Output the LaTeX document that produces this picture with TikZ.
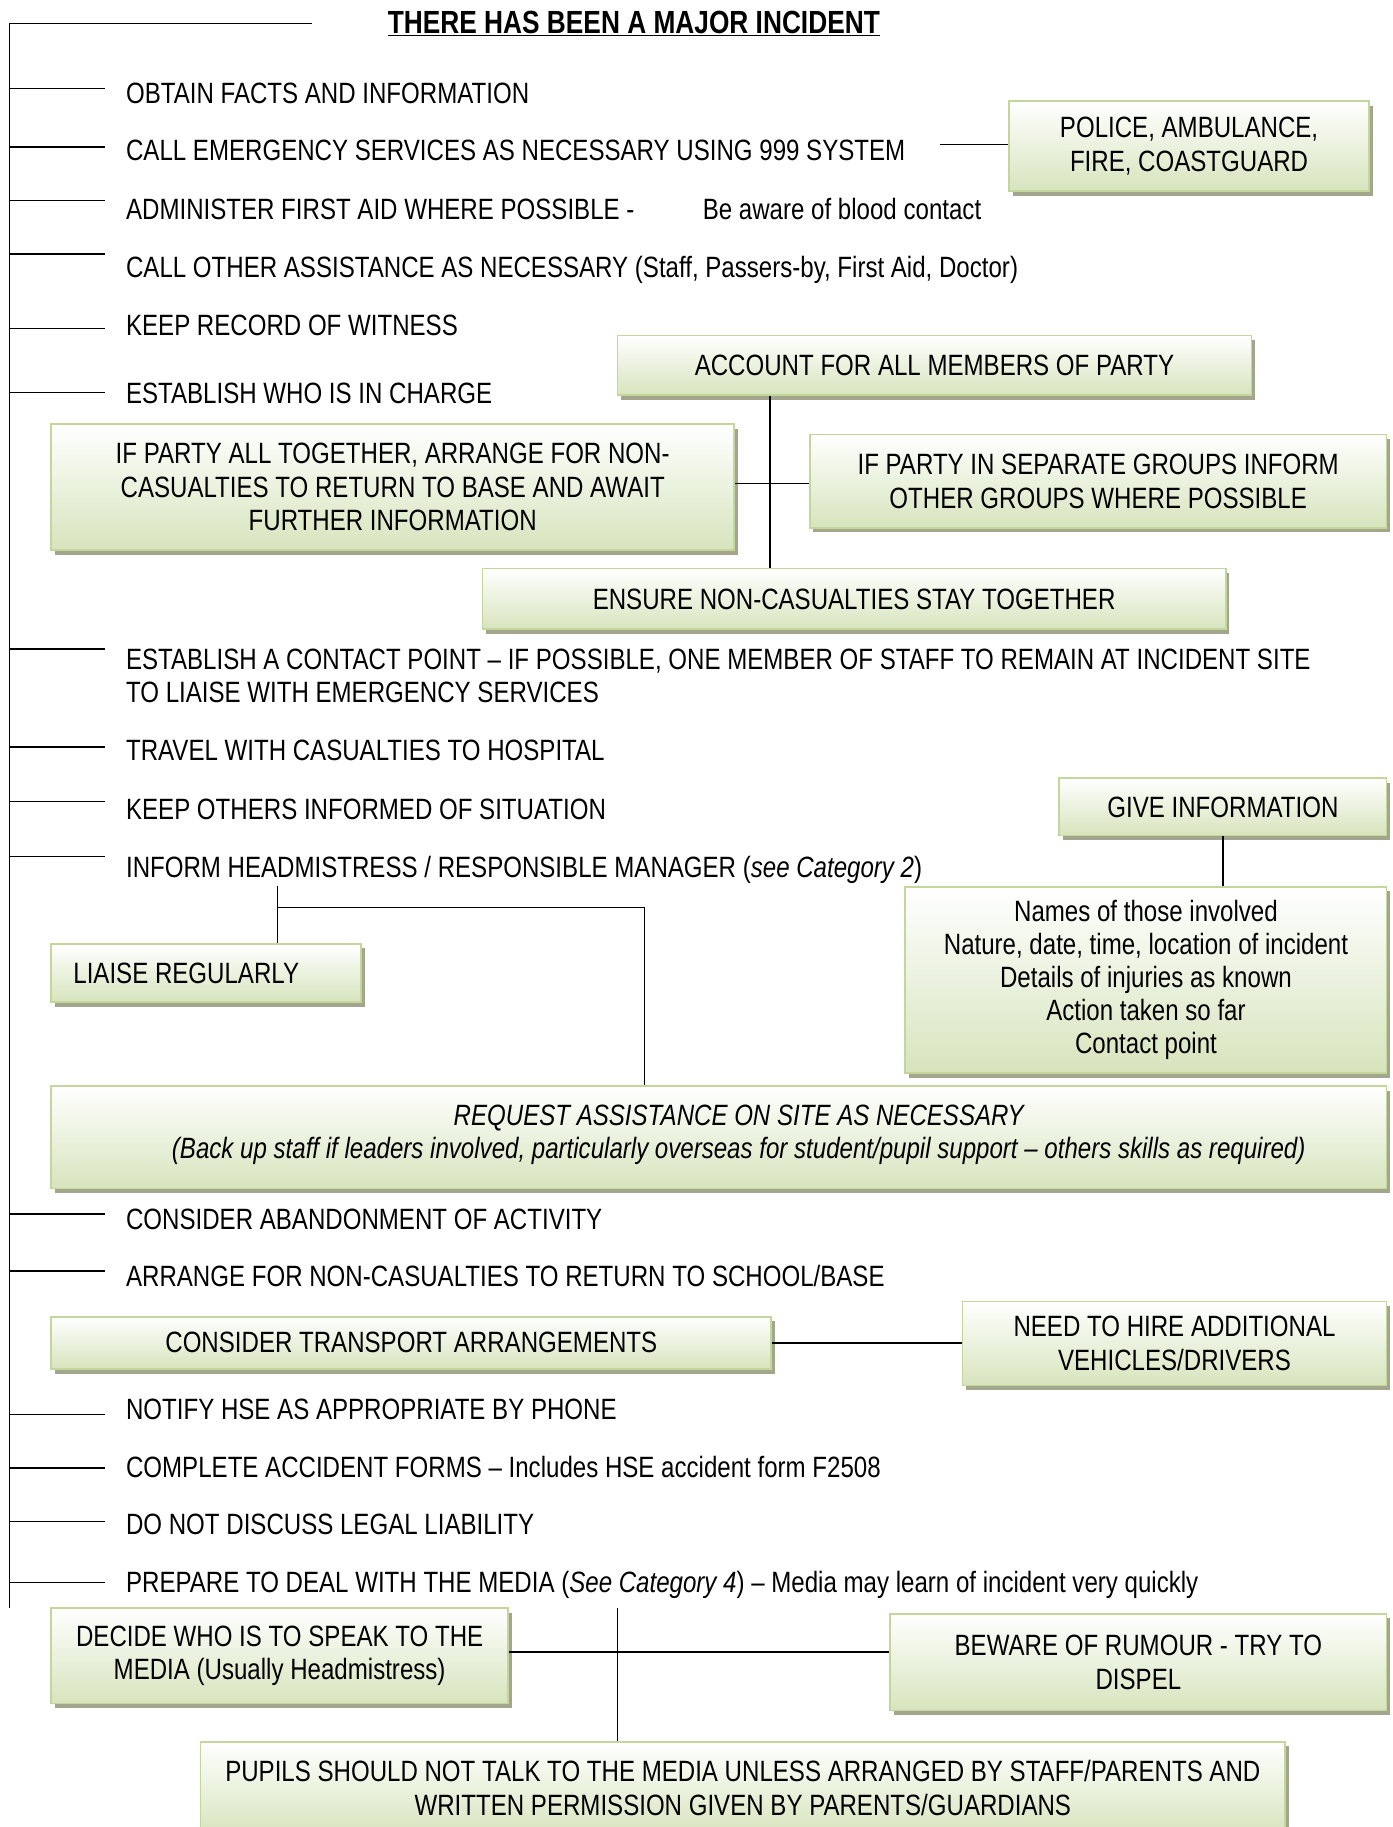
\documentclass[tikz,border=0pt]{standalone}
\usepackage{fontspec}
\setmainfont{Liberation Sans}[FakeStretch=0.82]
\usetikzlibrary{shadows}
\definecolor{boxborder}{HTML}{C3D69B}
\definecolor{boxfill}{HTML}{D7E4BD}
\definecolor{boxshadow}{HTML}{A3A68C}
\begin{document}
\begin{tikzpicture}[x=1pt,y=-1pt,
  every node/.style={font=\fontsize{25.2}{29}\selectfont},
  wire/.style={line width=1.3pt, black},
  greenbox/.style={draw=boxborder, line width=1.5pt, top color=white, bottom color=boxfill,
    align=center, inner sep=0pt,
    drop shadow={shadow xshift=3pt, shadow yshift=-4pt, fill=boxshadow, opacity=1}},
  item/.style={anchor=west, inner sep=0pt, text height=18pt, text depth=0pt},
  multi/.style={anchor=west, inner sep=0pt, align=left, font=\fontsize{25.2}{28}\selectfont},
]
\fill[white] (0,0) rectangle (1195,1568);
\useasboundingbox (0,0) rectangle (1195,1568);

% title and spine
\node[inner sep=0pt, font=\fontsize{27.5}{30}\selectfont\bfseries] (title) at (544,20) {\underline{THERE HAS BEEN A MAJOR INCIDENT}};
\coordinate (spineTop) at (8,20);
\coordinate (spineBot) at (8,1380);
\coordinate (topEnd) at (268,20);
\draw[wire] (topEnd) -- (spineTop) -- (spineBot);

% branch stubs
\foreach \n/\yy in {1/76,2/126,3/172,4/218,5/282,6/337,7/557,8/641,9/688,10/735,11/1042,12/1091,13/1214,14/1260,15/1306,16/1358}{
  \coordinate (b\n) at (90,\yy);
  \draw[wire] (b\n -| spineTop) -- (b\n);
}

% items
\node[item] (t1) at (108,80) {OBTAIN FACTS AND INFORMATION};
\node[item] (t2) at (108,129) {CALL EMERGENCY SERVICES AS NECESSARY USING 999 SYSTEM};
\node[item] (t3) at (108,179) {ADMINISTER FIRST AID WHERE POSSIBLE -};
\node[item] (t3b) at (603,179) {Be aware of blood contact};
\node[item] (t4) at (108,229) {CALL OTHER ASSISTANCE AS NECESSARY (Staff, Passers-by, First Aid, Doctor)};
\node[item] (t5) at (108,279) {KEEP RECORD OF WITNESS};
\node[item] (t6) at (108,337) {ESTABLISH WHO IS IN CHARGE};
\node[multi] (t7) at (108,580) {ESTABLISH A CONTACT POINT -- IF POSSIBLE, ONE MEMBER OF STAFF TO REMAIN AT INCIDENT SITE\\TO LIAISE WITH EMERGENCY SERVICES};
\node[item] (t8) at (108,644) {TRAVEL WITH CASUALTIES TO HOSPITAL};
\node[item] (t9) at (108,694) {KEEP OTHERS INFORMED OF SITUATION};
\node[item] (t10) at (108,744) {INFORM HEADMISTRESS / RESPONSIBLE MANAGER (\textit{see Category 2})};
\node[item] (t11) at (108,1046) {CONSIDER ABANDONMENT OF ACTIVITY};
\node[item] (t12) at (108,1095) {ARRANGE FOR NON-CASUALTIES TO RETURN TO SCHOOL/BASE};
\node[item] (t13) at (108,1209) {NOTIFY HSE AS APPROPRIATE BY PHONE};
\node[item] (t14) at (108,1259) {COMPLETE ACCIDENT FORMS -- Includes HSE accident form F2508};
\node[item] (t15) at (108,1308) {DO NOT DISCUSS LEGAL LIABILITY};
\node[item] (t16) at (108,1358) {PREPARE TO DEAL WITH THE MEDIA (\textit{See Category 4}) -- Media may learn of incident very quickly};

% boxes
\node[greenbox, minimum width=309pt, minimum height=77pt] (police) at (1020.5,125.5) {POLICE, AMBULANCE,\\FIRE, COASTGUARD};
\node[greenbox, minimum width=544pt, minimum height=51pt] (account) at (802,313.5) {ACCOUNT FOR ALL MEMBERS OF PARTY};
\node[greenbox, minimum width=586pt, minimum height=108pt] (together) at (337,418) {IF PARTY ALL TOGETHER, ARRANGE FOR NON-\\CASUALTIES TO RETURN TO BASE AND AWAIT\\FURTHER INFORMATION};
\node[greenbox, minimum width=495pt, minimum height=80pt] (separate) at (942.5,413) {IF PARTY IN SEPARATE GROUPS INFORM\\OTHER GROUPS WHERE POSSIBLE};
\node[greenbox, minimum width=638pt, minimum height=52pt] (ensure) at (733,514) {ENSURE NON-CASUALTIES STAY TOGETHER};
\node[greenbox, minimum width=281pt, minimum height=49pt] (giveinfo) at (1049.5,692.5) {GIVE INFORMATION};
\node[greenbox, minimum width=413pt, minimum height=160pt, font=\fontsize{25.2}{28.5}\selectfont] (names) at (983.5,841) {Names of those involved\\Nature, date, time, location of incident\\Details of injuries as known\\Action taken so far\\Contact point};
\node[greenbox, minimum width=266pt, minimum height=50pt, text width=228pt, align=flush left] (liaise) at (177,835) {LIAISE REGULARLY};
\node[greenbox, minimum width=1146pt, minimum height=88pt] (request) at (617,976) {};
\node[inner sep=0pt, align=center, font=\fontsize{25.2}{29}\selectfont\itshape] (requesttext) at (634,974) {REQUEST ASSISTANCE ON SITE AS NECESSARY\\(Back up staff if leaders involved, particularly overseas for student/pupil support -- others skills as required)};
\node[greenbox, minimum width=618pt, minimum height=45pt] (transport) at (353,1152.5) {CONSIDER TRANSPORT ARRANGEMENTS};
\node[greenbox, minimum width=364pt, minimum height=72pt] (hire) at (1008,1153) {NEED TO HIRE ADDITIONAL\\VEHICLES/DRIVERS};
\node[greenbox, minimum width=392pt, minimum height=82pt] (decide) at (240,1421) {DECIDE WHO IS TO SPEAK TO THE\\MEDIA (Usually Headmistress)};
\node[greenbox, minimum width=426pt, minimum height=83pt] (beware) at (977,1426.5) {BEWARE OF RUMOUR - TRY TO\\DISPEL};
\node[greenbox, minimum width=931pt, minimum height=80pt, anchor=north] (pupils) at (637.5,1494) {PUPILS SHOULD NOT TALK TO THE MEDIA UNLESS ARRANGED BY STAFF/PARENTS AND\\WRITTEN PERMISSION GIVEN BY PARENTS/GUARDIANS};

% connectors
\coordinate (emgEnd) at (807,124);
\draw[wire] (emgEnd) -- (emgEnd -| police.west);

\coordinate (hub1) at (661,415);
\draw[wire] (hub1 |- account.south) -- (hub1 |- ensure.north);
\draw[wire] (hub1 -| together.east) -- (hub1 -| separate.west);

\draw[wire] (giveinfo.south) -- (giveinfo.south |- names.north);

\coordinate (informDrop) at (238,760);
\coordinate (informJoin) at (238,779);
\coordinate (reqIn) at (553,779);
\draw[wire] (informDrop) -- (informDrop |- liaise.north);
\draw[wire] (informJoin) -- (reqIn) -- (reqIn |- request.north);

\draw[wire] (transport.east) -- (transport.east -| hire.west);

\coordinate (mediaDrop) at (530,1380);
\coordinate (mediaHub) at (530,1418);
\draw[wire] (mediaDrop) -- (mediaDrop |- pupils.north);
\draw[wire] (mediaHub -| decide.east) -- (mediaHub -| beware.west);
\end{tikzpicture}
\end{document}
